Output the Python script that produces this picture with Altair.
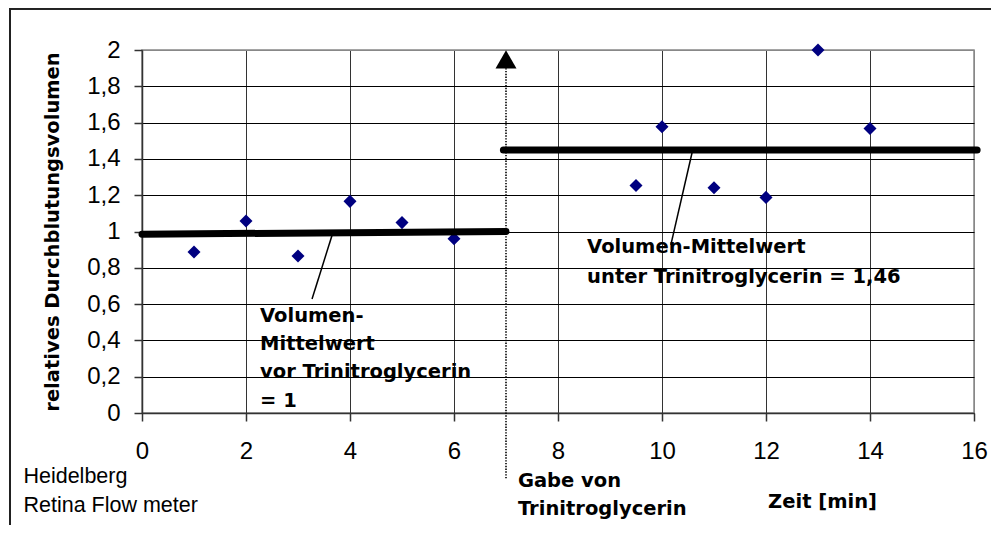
import altair as alt
import pandas as pd

# ---- measured data ----
t_min = [1, 2, 3, 4, 5, 6, 9.5, 10, 11, 12, 13, 14]
rel_vol = [0.887, 1.058, 0.865, 1.166, 1.049, 0.96, 1.254, 1.577, 1.241, 1.188, 2.0, 1.568]

# mean lines (before / under Trinitroglycerin)
mean_x_start = [0, 6.95]
mean_x_end = [7, 16.06]
mean_y_start = [0.985, 1.449]
mean_y_end = [1.0, 1.449]

# leader lines from annotations to mean lines
leader_x_start = [3.67, 10.59]
leader_y_start = [0.993, 1.449]
leader_x_end = [3.27, 10.17]
leader_y_end = [0.628, 0.926]

# event: Gabe von Trinitroglycerin
event_x = [7]
event_marker_y = [1.948]
event_line_top = [1.90]
event_line_bottom = [-0.36]

x_ticks = [0, 2, 4, 6, 8, 10, 12, 14, 16]
y_ticks = [0, 0.2, 0.4, 0.6, 0.8, 1.0, 1.2, 1.4, 1.6, 1.8, 2.0]

bold_texts = ["Volumen-", "Mittelwert", "vor Trinitroglycerin", "= 1",
              "Volumen-Mittelwert", "unter Trinitroglycerin = 1,46",
              "Gabe von", "Trinitroglycerin", "Zeit [min]"]
bold_x = [2.27, 2.27, 2.27, 2.27, 8.56, 8.56, 7.23, 7.23, 12.04]
bold_y = [0.50, 0.347, 0.191, 0.035, 0.880, 0.718, -0.408, -0.562, -0.523]

regular_texts = ["Heidelberg", "Retina Flow meter"]
regular_x = [-2.28, -2.28]
regular_y = [-0.386, -0.544]

# ---- tables ----
pts = pd.DataFrame({"t": t_min, "v": rel_vol})
means = pd.DataFrame({"x": mean_x_start, "x2": mean_x_end, "y": mean_y_start, "y2": mean_y_end})
leaders = pd.DataFrame({"x": leader_x_start, "x2": leader_x_end, "y": leader_y_start, "y2": leader_y_end})
event_line = pd.DataFrame({"x": event_x, "y": event_line_top, "y2": event_line_bottom})
event_mark = pd.DataFrame({"x": event_x, "y": event_marker_y})
btxt = pd.DataFrame({"x": bold_x, "y": bold_y, "text": bold_texts})
rtxt = pd.DataFrame({"x": regular_x, "y": regular_y, "text": regular_texts})

xscale = alt.Scale(domain=[0, 16], nice=False, zero=False)
yscale = alt.Scale(domain=[0, 2], nice=False, zero=False)

x_axis = alt.Axis(
    values=x_ticks, tickCount=20, title=None, tickSize=8, tickColor="#333333", tickWidth=1.5,
    domainColor="#333333", domainWidth=1.5,
    labelFont="Liberation Sans", labelFontSize=24, labelColor="#000000",
    labelBaseline="alphabetic", labelPadding=37, labelFlush=False, labelOverlap=False,
    grid=True, gridWidth=1,
    gridColor={"condition": {"test": "datum.value === 16", "value": "#888888"}, "value": "#333333"},
)
y_axis = alt.Axis(
    values=y_ticks, tickCount=20, tickSize=8, tickColor="#333333", tickWidth=1.5,
    domainColor="#333333", domainWidth=1.5,
    labelFont="Liberation Sans", labelFontSize=24, labelColor="#000000",
    labelPadding=14, labelFlush=False, labelOverlap=False,
    labelExpr="replace(format(datum.value, '.1~f'), '.', ',')",
    grid=True, gridWidth=1,
    gridColor={"condition": {"test": "datum.value === 2", "value": "#888888"}, "value": "#000000"},
    title="relatives Durchblutungsvolumen", titleFont="DejaVu Sans", titleFontWeight="bold",
    titleFontSize=19.5, titleColor="#000000", titleAngle=270, titleX=-90, titleY=181.5,
    titleAlign="center", titleBaseline="middle",
)

points = alt.Chart(pts).mark_point(shape="diamond", filled=True, color="#000080", size=170, opacity=1).encode(
    x=alt.X("t:Q", scale=xscale, axis=x_axis),
    y=alt.Y("v:Q", scale=yscale, axis=y_axis),
)

mean_lines = alt.Chart(means).mark_rule(strokeWidth=7, strokeCap="round", color="#000000").encode(
    x=alt.X("x:Q", scale=xscale), x2="x2:Q",
    y=alt.Y("y:Q", scale=yscale), y2="y2:Q",
)

leader_lines = alt.Chart(leaders).mark_rule(strokeWidth=1.5, color="#000000").encode(
    x=alt.X("x:Q", scale=xscale), x2="x2:Q",
    y=alt.Y("y:Q", scale=yscale), y2="y2:Q",
)

ev_line = alt.Chart(event_line).mark_rule(strokeWidth=1.6, strokeDash=[1.4, 1.4], color="#000000").encode(
    x=alt.X("x:Q", scale=xscale),
    y=alt.Y("y:Q", scale=yscale), y2="y2:Q",
)

ev_mark = alt.Chart(event_mark).mark_point(shape="triangle-up", filled=True, color="#000000", size=440, opacity=1).encode(
    x=alt.X("x:Q", scale=xscale),
    y=alt.Y("y:Q", scale=yscale),
)

bold_layer = alt.Chart(btxt).mark_text(
    font="DejaVu Sans", fontWeight="bold", fontSize=19.5, align="left", baseline="alphabetic", color="#000000"
).encode(x=alt.X("x:Q", scale=xscale), y=alt.Y("y:Q", scale=yscale), text="text:N")

reg_layer = alt.Chart(rtxt).mark_text(
    font="Liberation Sans", fontSize=21.5, align="left", baseline="alphabetic", color="#000000"
).encode(x=alt.X("x:Q", scale=xscale), y=alt.Y("y:Q", scale=yscale), text="text:N")

# outer frame (left and top edges)
frame_left = alt.Chart(pts).mark_rule(color="#222222", strokeWidth=1.5).encode(
    x=alt.value(-132), y=alt.value(-41.5), y2=alt.value(700)
)
frame_top = alt.Chart(pts).mark_rule(color="#222222", strokeWidth=1.5).encode(
    x=alt.value(-132), x2=alt.value(1000), y=alt.value(-41.5)
)

chart = alt.layer(
    points, mean_lines, leader_lines, ev_line, ev_mark, bold_layer, reg_layer, frame_left, frame_top
).properties(
    width=832, height=363,
    autosize=alt.AutoSizeParams(type="none"),
    padding={"left": 134, "top": 42, "right": 17, "bottom": 112},
    background="#ffffff",
).configure_view(stroke="#888888", strokeWidth=1.5)

chart.save("out.html", embed_options={"renderer": "svg", "actions": False})
